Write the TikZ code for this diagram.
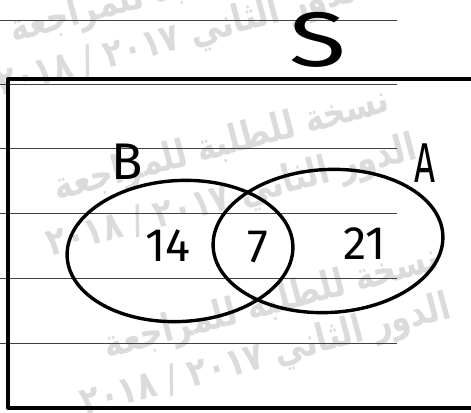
\documentclass[tikz,border=0pt]{standalone}
\usepackage{fontspec}
\setsansfont{Fira Sans}
\newfontfamily\arabicfont[Script=Arabic]{DejaVu Sans}
\TeXXeTstate=1
\usetikzlibrary{shapes.geometric}

\begin{document}
\begin{tikzpicture}[x=0.03cm,y=-0.03cm,every node/.style={inner sep=0pt, outer sep=0pt},
  ruled/.style={black!75, line width=0.5pt},
  frame/.style={black, line width=3.4pt, line join=round},
  setline/.style={draw, ellipse, line width=2.9pt, rotate=3},
  hand/.style={font=\sffamily\fontsize{40}{48}\selectfont},
  stamp/.style={black!14, rotate=15, xscale=0.82, font=\arabicfont\bfseries\fontsize{33}{38}\selectfont}]

\useasboundingbox (0,0) rectangle (471,412);
\clip (0,0) rectangle (471,412);

\node[stamp] (stampA1) at (178,-12) {\beginR نسخة للطلبة للمراجعة\endR};
\node[stamp] (stampA2) at (182,38) {\beginR الدور الثاني \beginL٢٠١٨ / ٢٠١٧\endL\endR};
\node[stamp] (stampB1) at (222,146) {\beginR نسخة للطلبة للمراجعة\endR};
\node[stamp] (stampB2) at (232,198) {\beginR الدور الثاني \beginL٢٠١٨ / ٢٠١٧\endL\endR};
\node[stamp] (stampC1) at (272,304) {\beginR نسخة للطلبة للمراجعة\endR};
\node[stamp] (stampC2) at (266,357) {\beginR الدور الثاني \beginL٢٠١٨ / ٢٠١٧\endL\endR};

\draw[ruled] (0,20) -- (397,20);
\draw[ruled] (0,84) -- (397,84);
\draw[ruled] (0,148) -- (397,148);
\draw[ruled] (0,213) -- (397,213);
\draw[ruled] (0,278) -- (397,278);
\draw[ruled] (0,343) -- (397,343);

\draw[frame] (471,79) -- (8,79) -- (8,408) -- (471,408);

\node[setline, minimum width=6.78cm, minimum height=4.23cm] (setB) at (180,251) {};
\node[setline, minimum width=6.9cm, minimum height=4.29cm] (setA) at (328,241) {};

\node[hand, font=\sffamily\fontsize{66}{70}\selectfont, xscale=1.35] (universe) at (318,40) {S};
\node[hand, font=\sffamily\fontsize{44}{50}\selectfont] (labelB) at (127,162) {B};
\node[hand, font=\sffamily\fontsize{48}{52}\selectfont, xscale=0.65] (labelA) at (425,163) {A};
\node[hand] (onlyB) at (168,246) {14};
\node[hand] (both) at (258,247) {7};
\node[hand] (onlyA) at (365,244) {21};
\end{tikzpicture}
\end{document}
